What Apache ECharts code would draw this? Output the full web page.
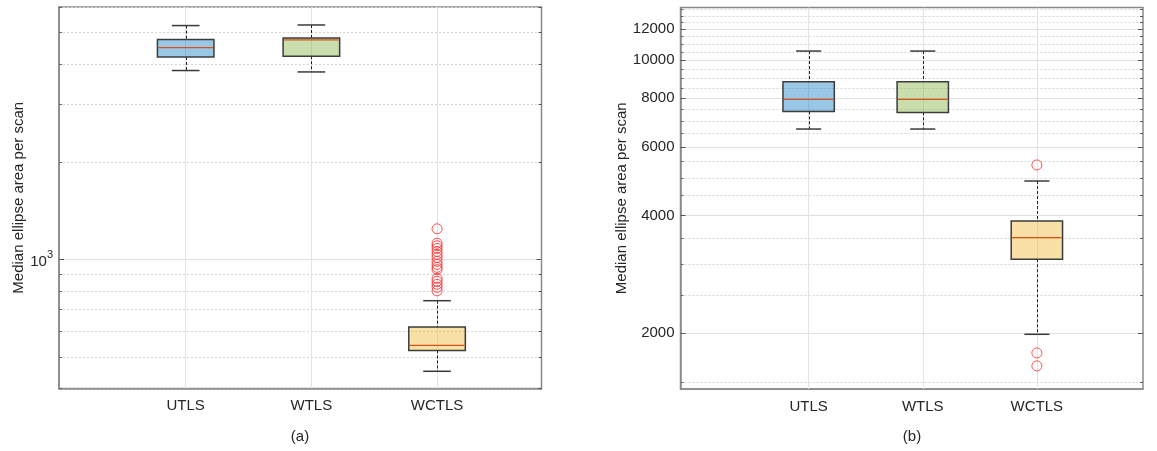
<!DOCTYPE html>
<html>
<head>
<meta charset="utf-8">
<title>Median ellipse area per scan</title>
<script src="https://cdn.jsdelivr.net/npm/echarts@6/dist/echarts.min.js"></script>
<style>
  html, body { margin: 0; padding: 0; background: #ffffff; }
  #chart { width: 1157px; height: 451px; }
</style>
</head>
<body>
<div id="chart"></div>
<script>
// Groups shown on both panels
const categories = ['UTLS', 'WTLS', 'WCTLS'];

// Panel (a): box statistics [lower whisker, Q1, median, Q3, upper whisker]
const boxesA = [
  [3822, 4210, 4499, 4762, 5259],
  [3784, 4230, 4749, 4816, 5281],
  [452, 524, 543, 619, 746]
];
// Panel (a): WCTLS outliers
const outliersA = [1243, 1122, 1102, 1081, 1058, 1036, 1014, 986, 965, 945, 930, 874, 856, 838, 821, 800];

// Panel (b): box statistics [lower whisker, Q1, median, Q3, upper whisker]
const boxesB = [
  [6667, 7399, 7943, 8810, 10559],
  [6667, 7355, 7943, 8810, 10559],
  [1988, 3094, 3513, 3877, 4908]
];
// Panel (b): WCTLS outliers
const outliersB = [5395, 1781, 1650];

// Axis ticks
const majorTicksA = [1000];
const minorTicksA = [400, 500, 600, 700, 800, 900, 2000, 3000, 4000, 5000, 6000];
const majorTicksB = [2000, 4000, 6000, 8000, 10000, 12000];
const minorTicksB = [1500, 2500, 3000, 3500, 4500, 5000, 5500, 6500, 7000, 7500, 8500, 9000, 9500,
                     10500, 11000, 11500, 12500, 13000, 13500];
const categoryTicks = [1, 2, 3];

const FONT = '"Liberation Sans", Arial, Helvetica, sans-serif';
const TEXT = '#262626';
const AXIS = '#8a8a8a';
const boxFill = ['rgba(0,114,189,0.4)', 'rgba(119,172,48,0.4)', 'rgba(237,177,32,0.4)'];
const medianColor = '#d95319';

function boxRows(stats) {
  return stats.map((s, i) => [i + 1].concat(s));
}

function renderBox(params, api) {
  const x = api.value(0);
  const lo = api.value(1), q1 = api.value(2), med = api.value(3), q3 = api.value(4), hi = api.value(5);
  const halfBox = 0.225, halfCap = 0.11;
  const tl = api.coord([x - halfBox, q3]);
  const br = api.coord([x + halfBox, q1]);
  // keep the 1px whisker on a pixel centre so it stays crisp
  const cx = Math.round(api.coord([x, med])[0]) + 0.5;
  const yHi = api.coord([x, hi])[1];
  const yLo = api.coord([x, lo])[1];
  const yMed = api.coord([x, med])[1];
  const capL = api.coord([x - halfCap, hi])[0];
  const capR = api.coord([x + halfCap, hi])[0];
  const whisker = { stroke: '#1e1e1e', lineWidth: 1, lineDash: [3, 2], fill: null };
  const cap = { stroke: '#3a3a3a', lineWidth: 1.5, fill: null };
  return {
    type: 'group',
    children: [
      { type: 'line', shape: { x1: cx, y1: yHi, x2: cx, y2: tl[1] }, style: whisker },
      { type: 'line', shape: { x1: cx, y1: br[1], x2: cx, y2: yLo }, style: whisker },
      { type: 'line', shape: { x1: capL, y1: yHi, x2: capR, y2: yHi }, style: cap },
      { type: 'line', shape: { x1: capL, y1: yLo, x2: capR, y2: yLo }, style: cap },
      { type: 'rect', shape: { x: tl[0], y: tl[1], width: br[0] - tl[0], height: br[1] - tl[1] },
        style: { fill: boxFill[params.dataIndex], stroke: '#3c3c3c', lineWidth: 1.5 } },
      { type: 'line', shape: { x1: tl[0] + 1, y1: yMed, x2: br[0] - 1, y2: yMed },
        style: { stroke: medianColor, lineWidth: 1.2 } }
    ]
  };
}

function xAxisFor(gridIndex, min, max, position) {
  const bottom = position === 'bottom';
  return {
    type: 'value', gridIndex, min, max, position,
    axisLine: { show: bottom, onZero: false, lineStyle: { color: AXIS, width: 1.5 } },
    axisTick: { show: true, inside: true, length: 4, customValues: categoryTicks,
                lineStyle: { color: '#555' } },
    axisLabel: { show: bottom, customValues: categoryTicks, color: TEXT, fontFamily: FONT, fontSize: 15,
                 margin: 10, formatter: v => categories[Math.round(v) - 1] || '' },
    splitLine: { show: false }
  };
}

function yMajor(gridIndex, min, max, ticks, labelFormatter, name, nameGap) {
  return {
    type: 'log', logBase: 10, gridIndex, min, max, position: 'left',
    name, nameLocation: 'middle', nameRotate: 90, nameGap,
    nameTextStyle: { color: TEXT, fontFamily: FONT, fontSize: 15 },
    axisLine: { show: true, onZero: false, lineStyle: { color: AXIS, width: 1.5 } },
    axisTick: { show: true, inside: true, length: 5, customValues: ticks, lineStyle: { color: '#555' } },
    axisLabel: Object.assign({ customValues: ticks, color: TEXT, fontFamily: FONT, fontSize: 15, margin: 6 },
                             labelFormatter),
    splitLine: { show: true, lineStyle: { color: '#e0e0e0', width: 1 } },
    minorTick: { show: false }, minorSplitLine: { show: false }
  };
}

function yMinor(gridIndex, min, max, ticks) {
  return {
    type: 'log', logBase: 10, gridIndex, min, max, position: 'left',
    axisLine: { show: false, onZero: false },
    axisTick: { show: true, inside: true, length: 3, customValues: ticks, lineStyle: { color: '#666' } },
    axisLabel: { show: false, customValues: ticks },
    splitLine: { show: true, lineStyle: { color: '#d6d6d6', width: 1, type: [2, 2] } }
  };
}

// Tick marks mirrored on the right-hand border
function yMirror(gridIndex, min, max, ticks, len) {
  return {
    type: 'log', logBase: 10, gridIndex, min, max, position: 'right',
    axisLine: { show: false, onZero: false },
    axisTick: { show: true, inside: true, length: len, customValues: ticks, lineStyle: { color: '#555' } },
    axisLabel: { show: false, customValues: ticks },
    splitLine: { show: false }
  };
}

// Vertical grid lines at the group positions, kept beneath the boxes
function categoryGrid(xAxisIndex, yAxisIndex) {
  return {
    type: 'line', xAxisIndex, yAxisIndex, data: [], z: 1, silent: true,
    markLine: {
      silent: true, symbol: 'none', animation: false, z: 1,
      label: { show: false },
      lineStyle: { color: '#e3e3e3', width: 1, type: 'solid' },
      data: categoryTicks.map(v => ({ xAxis: v }))
    }
  };
}

const chart = echarts.init(document.getElementById('chart'), null, { renderer: 'canvas' });

chart.setOption({
  backgroundColor: '#ffffff',
  animation: false,
  textStyle: { fontFamily: FONT },
  grid: [
    { left: 59, right: 1157 - 541.5, top: 7, bottom: 451 - 388.5, show: true,
      borderColor: AXIS, borderWidth: 1.5, backgroundColor: 'transparent' },
    { left: 680.5, right: 1157 - 1143, top: 7.5, bottom: 451 - 389, show: true,
      borderColor: AXIS, borderWidth: 1.5, backgroundColor: 'transparent' }
  ],
  xAxis: [
    xAxisFor(0, -0.008, 3.831, 'bottom'),
    xAxisFor(1, -0.123, 3.93, 'bottom'),
    xAxisFor(0, -0.008, 3.831, 'top'),
    xAxisFor(1, -0.123, 3.93, 'top')
  ],
  yAxis: [
    yMajor(0, 400, 6000, majorTicksA, {
      formatter: v => '{b|10}{e|' + Math.round(Math.log10(v)) + '}',
      rich: {
        b: { color: TEXT, fontFamily: FONT, fontSize: 15, padding: [4, 0, 0, 0] },
        e: { color: TEXT, fontFamily: FONT, fontSize: 11, verticalAlign: 'top', padding: [0, 0, 6, 0] }
      }
    }, 'Median ellipse area per scan', 32),
    yMinor(0, 400, 6000, minorTicksA),
    yMajor(1, 1440, 13650, majorTicksB, { formatter: v => String(v) },
           'Median ellipse area per scan', 50),
    yMinor(1, 1440, 13650, minorTicksB),
    yMirror(0, 400, 6000, majorTicksA, 5),
    yMirror(0, 400, 6000, minorTicksA, 3),
    yMirror(1, 1440, 13650, majorTicksB, 5),
    yMirror(1, 1440, 13650, minorTicksB, 3)
  ],
  series: [
    categoryGrid(0, 0),
    categoryGrid(1, 2),
    { type: 'custom', name: 'boxes (a)', xAxisIndex: 0, yAxisIndex: 0, renderItem: renderBox,
      encode: { x: 0, y: [1, 2, 3, 4, 5] }, data: boxRows(boxesA), z: 6 },
    { type: 'scatter', name: 'outliers (a)', xAxisIndex: 0, yAxisIndex: 0, symbol: 'circle', symbolSize: 10,
      itemStyle: { color: 'rgba(0,0,0,0)', borderColor: '#ff2a2a', borderWidth: 1 },
      data: outliersA.map(v => [3, v]), z: 7 },
    { type: 'custom', name: 'boxes (b)', xAxisIndex: 1, yAxisIndex: 2, renderItem: renderBox,
      encode: { x: 0, y: [1, 2, 3, 4, 5] }, data: boxRows(boxesB), z: 6 },
    { type: 'scatter', name: 'outliers (b)', xAxisIndex: 1, yAxisIndex: 2, symbol: 'circle', symbolSize: 10,
      itemStyle: { color: 'rgba(0,0,0,0)', borderColor: '#ff2a2a', borderWidth: 1 },
      data: outliersB.map(v => [3, v]), z: 7 }
  ],
  graphic: [
    { type: 'text', x: 300, y: 437, style: { text: '(a)', fill: TEXT, font: '15px ' + FONT,
      textAlign: 'center', textVerticalAlign: 'middle' } },
    { type: 'text', x: 912, y: 437, style: { text: '(b)', fill: TEXT, font: '15px ' + FONT,
      textAlign: 'center', textVerticalAlign: 'middle' } }
  ]
});
</script>
</body>
</html>
